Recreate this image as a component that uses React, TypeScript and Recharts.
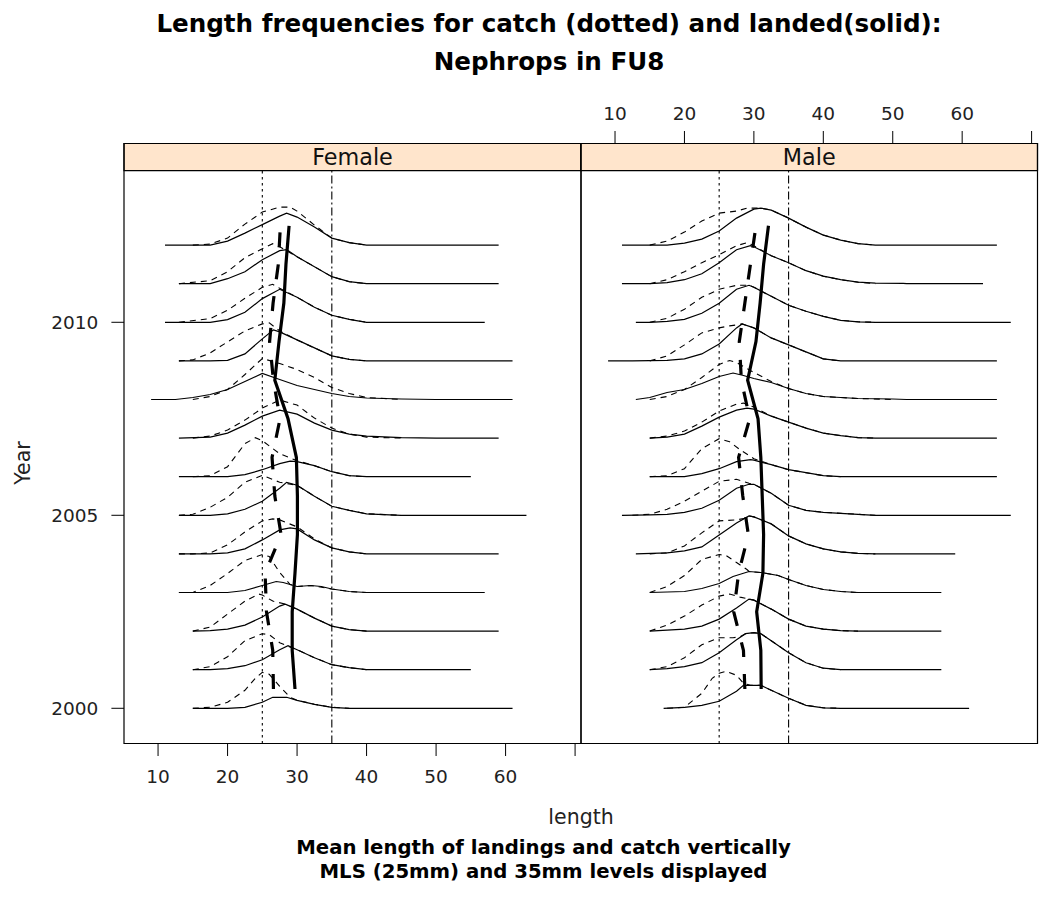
import React from 'react';
import { ComposedChart, Line, XAxis, YAxis, ReferenceArea } from 'recharts';

// ---------------- data ----------------
const years = [2000, 2001, 2002, 2003, 2004, 2005, 2006, 2007, 2008, 2009, 2010, 2011, 2012];
const lengthTicks = [10, 20, 30, 40, 50, 60, 70];
const lengthTickLabels = ['10', '20', '30', '40', '50', '60', ''];
const yearTicks = [2000, 2005, 2010];
const referenceLengths = [25, 35]; // MLS (25mm) and 35mm

// Each curve: [length (mm), relative frequency] pairs, one curve per year (2000..2012)
const femaleLanded: number[][][] = [
  [[15, 0], [20, 0], [22.5, 1], [25, 6], [26.5, 11], [28.5, 11], [30, 8], [32.5, 4], [35, 1], [37.5, 0], [61, 0]],
  [[15, 0], [17.5, 0], [20, 1], [22.5, 4], [25, 10], [27.5, 20], [28.7, 24], [30, 20], [32.5, 12], [35, 5], [37.5, 2], [40, 0], [55, 0]],
  [[15, 0], [17.5, 0.5], [20, 2], [22.5, 6], [25, 14], [27.5, 25], [28.3, 27], [30, 22], [32.5, 13], [35, 5], [37.5, 1.5], [40, 0], [59, 0]],
  [[13, 0], [20, 0], [22.5, 2], [25, 7], [27, 11], [28, 10], [30, 6], [32, 7], [33.5, 6], [35, 3.5], [37.5, 1], [40, 0], [57, 0]],
  [[13, 0], [17.5, 0], [20, 1], [22.5, 5], [25, 14], [27.5, 24], [29, 26], [30, 25], [32.5, 14], [35, 6], [37.5, 2], [40, 0], [59, 0]],
  [[13, 0], [17.5, 0], [20, 1.5], [22.5, 6], [25, 14], [27.5, 27], [28.5, 33], [30, 30], [32.5, 19], [35, 9], [37.5, 5], [40, 1.5], [45, 0], [63, 0]],
  [[13, 0], [20, 0], [22.5, 2], [25, 7], [27.5, 13], [29, 15.5], [30, 15], [32.5, 11], [35, 5], [37.5, 1], [40, 0], [55, 0]],
  [[13, 0], [17.5, 1], [20, 5], [22.5, 13], [25, 22], [27.5, 28], [30, 24], [32.5, 15], [35, 8], [37.5, 4], [40, 2], [45, 0.5], [50, 0], [59, 0]],
  [[9, 0], [12.5, 0], [15, 2], [17.5, 5], [20, 10], [22.5, 18], [25, 26], [27.5, 20], [30, 14], [32.5, 10], [35, 6], [37.5, 3], [40, 1.5], [45, 0.5], [50, 0], [61, 0]],
  [[13, 0], [17.5, 0], [20, 0.5], [22.5, 7], [25, 22], [26.6, 31], [27.5, 29], [30, 21], [32.5, 13], [35, 5], [37.5, 1.5], [40, 0], [61, 0]],
  [[11, 0], [17.5, 0], [20, 2.7], [22.5, 10], [25, 23.7], [27.5, 33], [30, 25], [32.5, 15], [35, 7], [37.5, 3], [40, 0], [57, 0]],
  [[13, 0], [17.5, 0], [20, 5], [22.5, 12], [25, 24], [27.5, 33], [28.5, 34], [30, 27], [32.5, 17], [35, 7], [37.5, 2], [40, 0], [59, 0]],
  [[11, 0], [17.5, 0], [20, 4], [22.5, 12], [25, 20.5], [27.5, 29], [28.5, 32], [30, 28], [32.5, 18], [35, 7], [37.5, 2.5], [40, 0], [59, 0]],
];

const femaleCatch: number[][][] = [
  [[15, 0], [17.5, 1], [20, 6], [22.5, 18], [24, 30], [25, 36], [26, 34], [27.5, 22], [29, 11], [30, 8], [32.5, 4], [35, 1], [37.5, 0]],
  [[15, 0], [17.5, 3], [20, 13], [22.5, 29], [25, 36], [26, 35], [27.5, 27], [28.5, 24], [30, 20], [32.5, 12], [35, 5], [37.5, 2], [40, 0]],
  [[15, 0], [17.5, 4], [20, 17], [22.5, 30], [24.5, 37], [25, 36], [26.5, 30], [28.3, 27], [30, 22], [32.5, 13], [35, 5], [37.5, 1.5], [40, 0]],
  [[13, 0], [15, 0], [17.5, 7], [20, 19], [22.5, 32], [25, 38], [26, 36], [27.5, 20], [29, 8], [30, 6], [32, 7], [35, 3.5], [37.5, 1], [40, 0]],
  [[13, 0], [15, 0], [17.5, 1], [20, 9], [22.5, 22], [25, 33], [26.5, 35], [27.5, 34], [30, 27], [32.5, 15], [35, 6], [37.5, 2], [40, 0]],
  [[13, 0], [15, 1], [17.5, 8], [20, 18], [22.5, 33], [25, 40], [27.5, 33], [30, 30], [32.5, 19], [35, 9], [37.5, 5], [40, 1.5], [45, 0]],
  [[15, 0], [17.5, 1], [20, 10], [22.5, 33], [24, 39], [25, 36], [27.5, 23], [30, 16], [32.5, 11], [35, 5], [37.5, 1], [40, 0]],
  [[15, 0], [17.5, 2], [20, 8], [22.5, 18], [25, 30], [27.5, 38], [30, 33], [32.5, 20], [35, 10], [37.5, 4], [40, 1], [45, 0]],
  [[15, 0], [17.5, 3], [20, 10], [22.5, 25], [25, 41], [27.5, 36], [30, 30], [32.5, 22], [35, 12], [37.5, 6], [40, 2], [45, 0]],
  [[13, 0], [15, 1], [17.5, 8], [20, 19], [22.5, 30], [25, 37], [26, 38], [27.5, 30], [30, 21], [32.5, 13], [35, 5], [37.5, 1.5], [40, 0]],
  [[13, 0], [17.5, 3.7], [20, 12], [22.5, 24], [25, 35], [26.5, 38], [27.5, 34], [30, 25], [32.5, 15], [35, 7], [37.5, 3], [40, 0]],
  [[13, 0], [17.5, 3], [20, 12], [22.5, 26], [25, 35], [26.5, 40], [27.5, 37], [30, 27], [32.5, 17], [35, 7], [37.5, 2], [40, 0]],
  [[15, 0], [17.5, 1], [20, 7], [22.5, 21], [25, 33], [27.5, 38], [29, 38], [30, 34], [32.5, 20], [35, 7], [37.5, 2.5], [40, 0]],
];

const maleLanded: number[][][] = [
  [[17, 0], [20, 1], [22.5, 3], [25, 7], [27.5, 17], [28.5, 23], [31, 23], [32.5, 18], [35, 10], [37.5, 3], [40, 0.5], [42.5, 0], [61, 0]],
  [[15, 0], [17.5, 1], [20, 3], [22.5, 7], [25, 17], [27.5, 30], [28.8, 36], [30, 37], [31, 36], [32.5, 29], [35, 17], [37.5, 7], [40, 1.5], [42.5, 0], [57, 0]],
  [[15, 0], [17.5, 1], [20, 2], [22.5, 5], [25, 12], [27.5, 23], [29.3, 32], [30, 31], [32.5, 22], [35, 12], [37.5, 5], [40, 2], [42.5, 0.5], [45, 0], [57, 0]],
  [[15, 0], [20, 1], [22.5, 4], [25, 9], [27, 16], [29.3, 21], [31, 20], [33.5, 17], [35, 13], [37.5, 7], [40, 3], [42.5, 1], [45, 0], [57, 0]],
  [[13, 0], [17.5, 1], [20, 3], [22.5, 7], [25, 19], [27.5, 31], [29.3, 38], [30, 37], [32.5, 30], [35, 18], [37.5, 10], [40, 5], [42.5, 2], [45, 0.5], [47.5, 0], [59, 0]],
  [[11, 0], [15, 0.5], [17.5, 1], [20, 3], [22.5, 7], [25, 15], [27.5, 27], [29.3, 31], [30, 31], [32.5, 22], [35, 10], [37.5, 5], [40, 3], [42.5, 2], [45, 1], [47.5, 0], [67, 0]],
  [[15, 0], [20, 0], [22.5, 3], [25, 8], [27.5, 15], [29.5, 17], [30, 16.5], [32.5, 12], [35, 7], [37.5, 4], [40, 1], [42.5, 0], [65, 0]],
  [[15, 0], [17.5, 1], [20, 4], [22.5, 12], [25, 21], [27.5, 28], [29, 30], [30, 29], [32.5, 22], [35, 16], [37.5, 10], [40, 5], [42.5, 2.5], [45, 0.5], [47.5, 0], [65, 0]],
  [[13, 0], [15, 2], [17.5, 7], [20, 10], [22.5, 16], [25, 23], [27, 26.5], [28.5, 24], [30, 21], [32.5, 17], [35, 11], [37.5, 6], [40, 3], [45, 1], [50, 0.5], [52, 0], [65, 0]],
  [[9, 0], [12.5, 0], [17.5, 0.5], [20, 2], [22.5, 7], [25, 17], [27.5, 33], [28.3, 37], [30, 33], [32.5, 23], [35, 16], [37.5, 9], [40, 2], [42.5, 0], [65, 0]],
  [[13, 0], [15, 0], [17.5, 1], [20, 3], [22.5, 9], [25, 19], [27.5, 33], [29.3, 37], [30, 35], [32.5, 26], [35, 17], [37.5, 11], [40, 6], [42.5, 2], [45, 0.5], [47.5, 0], [67, 0]],
  [[11, 0], [15, 0], [17.5, 1], [20, 4], [22.5, 10], [25, 21], [27.5, 34], [29.5, 38], [30, 37], [32.5, 28], [35, 21], [37.5, 13], [40, 7.5], [42.5, 4], [45, 1.5], [47.5, 0.5], [51.5, 0.3], [52, 0], [63, 0]],
  [[11, 0], [17.5, 0], [20, 2], [22.5, 6], [25, 14], [27.5, 27], [30, 36], [31, 37], [32.5, 35], [35, 27], [37.5, 18], [40, 10], [42.5, 5], [45, 1.5], [47.5, 0], [65, 0]],
];

const maleCatch: number[][][] = [
  [[17.5, 0], [20, 1], [22.5, 15], [24, 30], [25, 35], [26, 37], [27.5, 33], [28.5, 25], [29.5, 23], [31, 23], [32.5, 18], [35, 10], [37.5, 3], [40, 0.5], [42.5, 0]],
  [[15, 0], [17.5, 3], [20, 12], [22.5, 25], [25, 32], [27, 32], [28, 33], [28.8, 36], [30, 37], [31, 36], [32.5, 29], [35, 17], [37.5, 7], [40, 1.5], [42.5, 0]],
  [[15, 0], [17.5, 6], [20, 15], [22.5, 26], [25, 35], [26.5, 37], [28, 34], [29.3, 32], [30, 31], [32.5, 22], [35, 12], [37.5, 5], [40, 2], [42.5, 0.5], [45, 0]],
  [[15, 0], [17.5, 6], [20, 17], [22.5, 33], [25, 38], [26, 37], [27.5, 30], [29, 23], [29.3, 21], [31, 20], [33.5, 17], [35, 13], [37.5, 7], [40, 3], [42.5, 1], [45, 0]],
  [[15, 0], [17.5, 1], [20, 8], [22.5, 21], [25, 33], [27.5, 34], [29, 36], [29.3, 38], [30, 37], [32.5, 30], [35, 18], [37.5, 10], [40, 5], [42.5, 2], [45, 0.5], [47.5, 0]],
  [[12.5, 0], [15, 1], [17.5, 6], [20, 14], [22.5, 24], [25, 34], [27.5, 36], [29.3, 32], [30, 31], [32.5, 22], [35, 10], [37.5, 5], [40, 3], [42.5, 2], [45, 1], [47.5, 0]],
  [[15, 0], [17.5, 1], [20, 8], [22.5, 28], [25, 38], [26.5, 35], [28, 27], [30, 18], [32.5, 12], [35, 7], [37.5, 4], [40, 1], [42.5, 0]],
  [[15, 0], [17.5, 2], [20, 7], [22.5, 16], [25, 27], [27.5, 34], [28.5, 35], [30, 31], [32.5, 22], [35, 16], [37.5, 10], [40, 5], [42.5, 2.5], [45, 0.5], [47.5, 0]],
  [[15, 0], [17.5, 3], [20, 10], [22.5, 22], [25, 35], [26.5, 39], [27.5, 37], [30, 27], [32.5, 18], [35, 11], [37.5, 6], [40, 3], [45, 1], [50, 0]],
  [[15, 0], [17.5, 5], [20, 16], [22.5, 28], [25, 33], [26.5, 35], [27.5, 36], [28.3, 37], [30, 33], [32.5, 23], [35, 16], [37.5, 9], [40, 2], [42.5, 0]],
  [[15, 0], [17.5, 4], [20, 13], [22.5, 25], [25, 33], [27.5, 37], [29.3, 37], [30, 35], [32.5, 26], [35, 17], [37.5, 11], [40, 6], [42.5, 2], [45, 0.5], [47.5, 0]],
  [[15, 0], [17.5, 4], [20, 12], [22.5, 21], [25, 29], [27.5, 38], [29, 41], [30, 38], [32.5, 28], [35, 21], [37.5, 13], [40, 7.5], [42.5, 4], [45, 1.5], [47.5, 0]],
  [[15, 0], [17.5, 4], [20, 13], [22.5, 24], [25, 32], [27.5, 34], [29, 37], [31, 37], [32.5, 35], [35, 27], [37.5, 18], [40, 10], [42.5, 5], [45, 1.5], [47.5, 0]],
];

// mean lengths per year (2000..2012)
const femaleLandedMean = [29.7, 29.3, 29.3, 29.7, 30.05, 30.05, 29.9, 28.7, 26.8, 27.4, 28.1, 28.4, 28.85];
const femaleCatchMean = [26.6, 26.5, 25.6, 25.4, 27.7, 26.8, 26.4, 27.55, 26.6, 26.05, 26.55, 27.3, 27.6];
const maleLandedMean = [31.05, 31.0, 30.4, 31.3, 31.4, 31.2, 31.0, 30.6, 29.1, 30.3, 30.9, 31.4, 32.1];
const maleCatchMean = [28.7, 28.5, 27.1, 27.8, 29.2, 28.4, 27.8, 29.4, 28.2, 27.9, 28.7, 29.5, 30.3];

// ---------------- layout constants ----------------
const X_DOMAIN: [number, number] = [5.1, 70.85];
const Y_MIN = 1999.088;
const Y_MAX = 2014.632;
const STRIP_BOTTOM = 2013.927;
const HEIGHT_SCALE = 1 / 38.6; // relative frequency -> year units
const MEAN_OFFSET = 0.5;
const FONT = "'DejaVu Sans', Verdana, sans-serif";
const TICK_STYLE = { fill: '#222', fontSize: 18.5, fontFamily: FONT };

const toCurve = (year: number, pts: number[][]) =>
  pts.map(([x, f]) => ({ x, y: year + f * HEIGHT_SCALE }));
const toMeans = (means: number[]) => means.map((m, i) => ({ x: m, y: years[i] + MEAN_OFFSET }));

type PanelProps = {
  label: string;
  landed: number[][][];
  caught: number[][][];
  landedMean: number[];
  caughtMean: number[];
  side: 'left' | 'right';
};

function Panel({ label, landed, caught, landedMean, caughtMean, side }: PanelProps) {
  const isLeft = side === 'left';
  const width = isLeft ? 1044 : 1100;
  const margin = isLeft
    ? { top: 103.5, bottom: 113.5, left: 64, right: 463 }
    : { top: 103.5, bottom: 113.5, left: 581, right: 32.5 };
  const fmt = (v: number) => lengthTickLabels[lengthTicks.indexOf(v)] ?? String(v);

  return (
    <div style={{ position: 'absolute', left: 0, top: 0 }}>
      <ComposedChart width={width} height={897} margin={margin}>
        <XAxis
          xAxisId="b"
          orientation="bottom"
          type="number"
          dataKey="x"
          domain={X_DOMAIN}
          allowDataOverflow
          ticks={lengthTicks}
          interval={0}
          height={40}
          axisLine={false}
          stroke="#000"
          tickSize={12.5}
          tickMargin={13.4}
          tick={isLeft ? TICK_STYLE : false}
          tickFormatter={fmt}
        />
        <XAxis
          xAxisId="t"
          orientation="top"
          type="number"
          dataKey="x"
          domain={X_DOMAIN}
          allowDataOverflow
          ticks={lengthTicks}
          interval={0}
          height={40}
          axisLine={false}
          stroke="#000"
          tickSize={12.5}
          tickMargin={11}
          tick={isLeft ? false : TICK_STYLE}
          tickFormatter={fmt}
        />
        <YAxis
          yAxisId="y"
          orientation={isLeft ? 'left' : 'right'}
          type="number"
          domain={[Y_MIN, Y_MAX]}
          allowDataOverflow
          ticks={yearTicks}
          interval={0}
          width={isLeft ? 60 : 30}
          axisLine={false}
          stroke="#000"
          tickSize={12.6}
          tickMargin={13}
          tick={isLeft ? TICK_STYLE : false}
        />
        <ReferenceArea
          xAxisId="b"
          yAxisId="y"
          x1={X_DOMAIN[0]}
          x2={X_DOMAIN[1]}
          y1={STRIP_BOTTOM}
          y2={Y_MAX}
          fill="#FFE5CC"
          fillOpacity={1}
          stroke="#000"
          strokeWidth={1.2}
          label={{ value: label, position: 'center', fill: '#111', fontSize: 22.3, fontFamily: FONT }}
        />
        <ReferenceArea
          xAxisId="b"
          yAxisId="y"
          x1={X_DOMAIN[0]}
          x2={X_DOMAIN[1]}
          y1={Y_MIN}
          y2={Y_MAX}
          fill="none"
          fillOpacity={0}
          stroke="#000"
          strokeWidth={1.2}
        />
        {referenceLengths.map((L, i) => (
          <Line
            key={`ref${L}`}
            xAxisId="b"
            yAxisId="y"
            data={[{ x: L, y: Y_MIN }, { x: L, y: STRIP_BOTTOM }]}
            dataKey="y"
            type="linear"
            dot={false}
            activeDot={false}
            stroke="#000"
            strokeWidth={1.1}
            strokeDasharray={i === 0 ? '2.5 3.5' : '8 3 2 3'}
            isAnimationActive={false}
          />
        ))}
        {years.map((yr, i) => (
          <Line
            key={`c${yr}`}
            xAxisId="b"
            yAxisId="y"
            data={toCurve(yr, caught[i])}
            dataKey="y"
            type="linear"
            dot={false}
            activeDot={false}
            stroke="#000"
            strokeWidth={1.1}
            strokeDasharray="6 5"
            isAnimationActive={false}
          />
        ))}
        {years.map((yr, i) => (
          <Line
            key={`l${yr}`}
            xAxisId="b"
            yAxisId="y"
            data={toCurve(yr, landed[i])}
            dataKey="y"
            type="linear"
            dot={false}
            activeDot={false}
            stroke="#000"
            strokeWidth={1.2}
            isAnimationActive={false}
          />
        ))}
        <Line
          xAxisId="b"
          yAxisId="y"
          data={toMeans(caughtMean)}
          dataKey="y"
          type="linear"
          dot={false}
          activeDot={false}
          stroke="#000"
          strokeWidth={3.2}
          strokeDasharray="15 17"
          isAnimationActive={false}
        />
        <Line
          xAxisId="b"
          yAxisId="y"
          data={toMeans(landedMean)}
          dataKey="y"
          type="linear"
          dot={false}
          activeDot={false}
          stroke="#000"
          strokeWidth={3.2}
          isAnimationActive={false}
        />
      </ComposedChart>
    </div>
  );
}

export default function App() {
  return (
    <div
      style={{
        position: 'absolute',
        left: 0,
        top: 0,
        width: 1044,
        height: 897,
        overflow: 'hidden',
        background: '#fff',
        fontFamily: FONT,
      }}
    >
      <Panel
        label="Female"
        landed={femaleLanded}
        caught={femaleCatch}
        landedMean={femaleLandedMean}
        caughtMean={femaleCatchMean}
        side="left"
      />
      <Panel
        label="Male"
        landed={maleLanded}
        caught={maleCatch}
        landedMean={maleLandedMean}
        caughtMean={maleCatchMean}
        side="right"
      />
      <svg
        width={1044}
        height={897}
        style={{ position: 'absolute', left: 0, top: 0, pointerEvents: 'none' }}
      >
        <g fontFamily={FONT} fill="#000" textAnchor="middle">
          <text x={549} y={32} fontSize={24.6} fontWeight="bold">
            Length frequencies for catch (dotted) and landed(solid):
          </text>
          <text x={549} y={70} fontSize={24.6} fontWeight="bold">
            Nephrops in FU8
          </text>
          <text x={581} y={824} fontSize={20.5} fill="#222">
            length
          </text>
          <text x={543.5} y={854} fontSize={19.7} fontWeight="bold">
            Mean length of landings and catch vertically
          </text>
          <text x={543.5} y={877.5} fontSize={19.7} fontWeight="bold">
            MLS (25mm) and 35mm levels displayed
          </text>
          <text x={30} y={463} fontSize={20.5} fill="#222" transform="rotate(-90 30 463)">
            Year
          </text>
        </g>
      </svg>
    </div>
  );
}
